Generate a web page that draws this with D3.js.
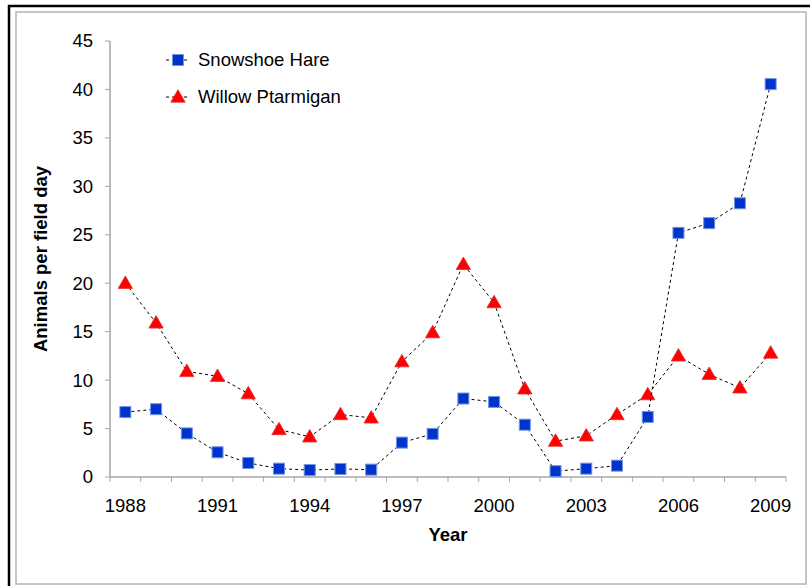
<!DOCTYPE html>
<html>
<head>
<meta charset="utf-8">
<script src="https://d3js.org/d3.v7.min.js"></script>
<style>
  body { margin: 0; background: #fff; }
  text { font-family: "Liberation Sans", Arial, sans-serif; }
</style>
</head>
<body>
<svg id="chart"></svg>
<script>
  const years = d3.range(1988, 2010);
  const hare = [6.7, 7.0, 4.5, 2.55, 1.45, 0.86, 0.72, 0.83, 0.76, 3.55, 4.45,
    8.1, 7.75, 5.4, 0.6, 0.86, 1.17, 6.2, 25.2, 26.2, 28.25, 40.55];
  const ptarmigan = [20.0, 15.9, 10.9, 10.4, 8.6, 4.9, 4.15, 6.45, 6.1, 11.9, 14.9,
    21.95, 18.0, 9.1, 3.7, 4.25, 6.45, 8.5, 12.5, 10.6, 9.2, 12.8];
  const yTicks = [0, 5, 10, 15, 20, 25, 30, 35, 40, 45];
  const xLabels = [1988, 1991, 1994, 1997, 2000, 2003, 2006, 2009];

  const W = 810, H = 586;
  const margin = { left: 110, right: 24, top: 41, bottom: 109 };
  const fs = "18.5px";

  const svg = d3.select("#chart").attr("width", W).attr("height", H);

  // outer frames
  svg.append("path").attr("d", "M9,586 V6 H810")
    .attr("fill", "none").attr("stroke", "#000").attr("stroke-width", 2.5);
  svg.append("rect").attr("x", 16).attr("y", 12).attr("width", 790).attr("height", 572)
    .attr("fill", "none").attr("stroke", "#b4b4b4").attr("stroke-width", 1.5);

  const x = d3.scaleBand().domain(years).range([margin.left, W - margin.right]);
  const y = d3.scaleLinear().domain([0, 45]).range([H - margin.bottom, margin.top]);
  const cx = d => x(d) + x.bandwidth() / 2;

  // y axis
  const gy = svg.append("g");
  gy.append("line").attr("x1", margin.left).attr("x2", margin.left)
    .attr("y1", y(45)).attr("y2", y(0)).attr("stroke", "#a6a6a6").attr("stroke-width", 1.5);
  gy.selectAll(".yt").data(yTicks).enter().append("line")
    .attr("x1", margin.left - 5).attr("x2", margin.left)
    .attr("y1", d => y(d)).attr("y2", d => y(d)).attr("stroke", "#a6a6a6");
  gy.selectAll(".yl").data(yTicks).enter().append("text")
    .attr("x", margin.left - 17).attr("y", d => y(d)).attr("dy", "0.35em")
    .attr("text-anchor", "end").style("font-size", fs).text(d => d);

  // x axis
  const gx = svg.append("g");
  gx.append("line").attr("x1", margin.left).attr("x2", W - margin.right)
    .attr("y1", y(0)).attr("y2", y(0)).attr("stroke", "#a6a6a6").attr("stroke-width", 1.5);
  const edges = years.map(d => x(d)).concat([W - margin.right]);
  gx.selectAll(".xt").data(edges).enter().append("line")
    .attr("x1", d => d).attr("x2", d => d)
    .attr("y1", y(0)).attr("y2", y(0) + 5).attr("stroke", "#a6a6a6");
  gx.selectAll(".xl").data(xLabels).enter().append("text")
    .attr("x", d => cx(d)).attr("y", y(0) + 35)
    .attr("text-anchor", "middle").style("font-size", fs).text(d => d);

  // axis titles
  svg.append("text").attr("x", 448).attr("y", 541).attr("text-anchor", "middle")
    .style("font-size", fs).style("font-weight", "bold").text("Year");
  svg.append("text").attr("transform", "translate(47," + y(22.5) + ") rotate(-90)")
    .attr("text-anchor", "middle").style("font-size", fs).style("font-weight", "bold")
    .text("Animals per field day");

  const line = d3.line().x((d, i) => cx(years[i])).y(d => y(d));
  const tri = d3.symbol().type(d3.symbolTriangle).size(90);

  function series(values, kind) {
    svg.append("path").datum(values).attr("d", line)
      .attr("fill", "none").attr("stroke", "#000").attr("stroke-width", 1)
      .attr("stroke-dasharray", "3,3");
    const g = svg.append("g");
    values.forEach((v, i) => drawMarker(g, cx(years[i]), y(v), kind));
  }

  function drawMarker(g, px, py, kind) {
    if (kind === "square") {
      g.append("rect").attr("x", px - 5.5).attr("y", py - 5.5).attr("width", 11).attr("height", 11)
        .attr("fill", "#0033cc").attr("stroke", "#6f95e0").attr("stroke-width", 1);
    } else {
      g.append("path").attr("d", tri).attr("transform", "translate(" + px + "," + (py + 1) + ")")
        .attr("fill", "#ff0000").attr("stroke", "#e03030").attr("stroke-width", 0.8);
    }
  }

  series(ptarmigan, "triangle");
  series(hare, "square");

  // legend
  const legend = [["Snowshoe Hare", "square", 60], ["Willow Ptarmigan", "triangle", 97]];
  legend.forEach(([name, kind, ly]) => {
    svg.append("line").attr("x1", 166).attr("x2", 190).attr("y1", ly).attr("y2", ly)
      .attr("stroke", "#000").attr("stroke-dasharray", "3,3");
    drawMarker(svg, 178, ly, kind);
    svg.append("text").attr("x", 198).attr("y", ly).attr("dy", "0.35em")
      .style("font-size", fs).text(name);
  });
</script>
</body>
</html>
